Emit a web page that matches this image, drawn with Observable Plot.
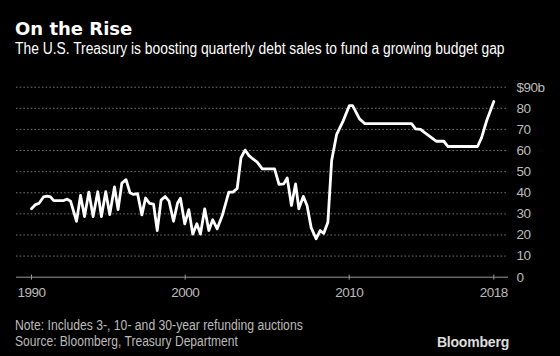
<!DOCTYPE html>
<html>
<head>
<meta charset="utf-8">
<script src="https://cdn.jsdelivr.net/npm/d3@7"></script>
<script src="https://cdn.jsdelivr.net/npm/@observablehq/plot@0.6"></script>
<style>
  html, body { margin: 0; padding: 0; background: #000; }
  #wrap { position: relative; width: 560px; height: 356px; background: #000; overflow: hidden; }
  .t { position: absolute; white-space: nowrap; line-height: 1; transform-origin: 0 0; }
  #title { left: 15px; top: 18px; font: bold 18px "DejaVu Sans", sans-serif; color: #fff; }
  #subtitle { left: 15px; top: 40px; font: 16px "Liberation Sans", Arial, sans-serif; color: #fff; transform: scaleX(0.864); }
  #note { left: 15px; top: 317px; font: 14px "Liberation Sans", Arial, sans-serif; color: #bbb; transform: scaleX(0.87); }
  #source { left: 15px; top: 333px; font: 14px "Liberation Sans", Arial, sans-serif; color: #bbb; transform: scaleX(0.86); }
  #logo { right: 51px; top: 334px; font: bold 14px "Liberation Sans", Arial, sans-serif; color: #ddd; letter-spacing: -0.2px; }
  #chart { position: absolute; left: 0; top: 60px; }
  #chart svg text { letter-spacing: -0.5px; }
</style>
</head>
<body>
<div id="wrap">
  <div class="t" id="title">On the Rise</div>
  <div class="t" id="subtitle">The U.S. Treasury is boosting quarterly debt sales to fund a growing budget gap</div>
  <div id="chart"></div>
  <div class="t" id="note">Note: Includes 3-, 10- and 30-year refunding auctions</div>
  <div class="t" id="source">Source: Bloomberg, Treasury Department</div>
  <div class="t" id="logo">Bloomberg</div>
</div>
<script>
// Quarterly refunding auction sizes ($ billions)
const dates = [
  1990.00, 1990.26, 1990.49, 1990.78, 1991.02, 1991.24, 1991.45, 1991.78,
  1992.10, 1992.32, 1992.54, 1992.93, 1993.19, 1993.45, 1993.73, 1994.01,
  1994.31, 1994.55, 1994.83, 1995.09, 1995.40, 1995.63, 1995.88, 1996.15,
  1996.41, 1996.64, 1996.90, 1997.18, 1997.42, 1997.68, 1997.94, 1998.18,
  1998.43, 1998.70, 1998.95, 1999.24, 1999.50, 1999.69, 1999.97,
  2000.22, 2000.46, 2000.71, 2000.93, 2001.19, 2001.44, 2001.68, 2001.95,
  2002.26, 2002.66, 2002.91, 2003.17, 2003.40, 2003.65, 2003.89, 2004.13,
  2004.39, 2004.70, 2005.45, 2005.72, 2006.01, 2006.22, 2006.48, 2006.73,
  2006.93, 2007.20, 2007.43, 2007.68, 2007.98, 2008.23, 2008.45, 2008.70,
  2008.93, 2009.23, 2009.62, 2010.01,
  2010.19, 2010.57, 2010.87, 2013.45, 2013.67, 2013.95, 2014.14, 2014.40,
  2014.72, 2014.83, 2015.23, 2015.47, 2017.10, 2017.32, 2017.60, 2018.00
];
const values = [
  32.4, 34.4, 35.0, 38.0, 38.4, 38.0, 36.3, 36.3,
  36.3, 37.0, 36.0, 26.5, 38.7, 28.7, 40.3, 28.7,
  40.5, 28.7, 40.5, 29.7, 42.8, 32.0, 44.6, 46.2,
  40.0, 39.2, 39.6, 29.5, 37.5, 35.0, 34.6, 22.1,
  36.5, 38.2, 36.0, 26.5, 35.0, 37.4, 25.3,
  32.0, 20.4, 25.3, 20.4, 32.4, 22.1, 27.2, 22.9,
  29.2, 40.3, 40.3, 42.0, 56.5, 60.2, 57.6, 56.0,
  54.5, 51.3, 51.3, 44.0, 44.2, 47.0, 34.0, 44.2,
  32.4, 38.3, 34.0, 23.5, 18.2, 22.1, 20.8, 26.0,
  55.3, 67.5, 73.8, 81.3,
  81.3, 75.0, 72.7, 72.7, 70.3, 70.0, 68.7, 67.1,
  65.0, 64.4, 64.4, 61.9, 61.9, 66.0, 74.0, 83.2
];
const tickYears = [1990, 2000, 2010, 2018];
const yTicks = [0, 10, 20, 30, 40, 50, 60, 70, 80, 90];
const gridLines = [10, 20, 30, 40, 50, 60, 70, 80, 90];

const data = dates.map((d, i) => ({date: d, value: values[i]}));

const chart = Plot.plot({
  width: 560,
  height: 250,
  marginLeft: 16,
  marginRight: 52,
  marginTop: 26.7,
  marginBottom: 33.3,
  style: {background: "transparent", color: "#bbb", fontFamily: '"Liberation Sans", Arial, sans-serif', fontSize: "13.5px"},
  x: {
    type: "linear",
    domain: tickYears,
    range: [31, 184.7, 348.7, 493.3],
    ticks: tickYears,
    tickFormat: d => String(d),
    tickSize: 0,
    tickPadding: 10,
    label: null
  },
  y: {
    type: "linear",
    domain: [0, 90],
    range: [216.7, 26.7],
    ticks: yTicks,
    tickFormat: d => d === 90 ? "$90b" : String(d),
    axis: "right",
    tickSize: 0,
    tickPadding: 8,
    label: null
  },
  marks: [
    Plot.ruleY(gridLines, {stroke: "#777", strokeDasharray: "1.5,2.2", strokeWidth: 1}),
    Plot.ruleY([0], {stroke: "#999", strokeWidth: 1}),
    Plot.ruleX(tickYears, {y1: -1.4, y2: 1, stroke: "#999", strokeWidth: 1}),
    Plot.line(data, {x: "date", y: "value", stroke: "#fff", strokeWidth: 2.8, strokeLinejoin: "round", strokeLinecap: "round"})
  ]
});
document.getElementById("chart").appendChild(chart);
</script>
</body>
</html>
